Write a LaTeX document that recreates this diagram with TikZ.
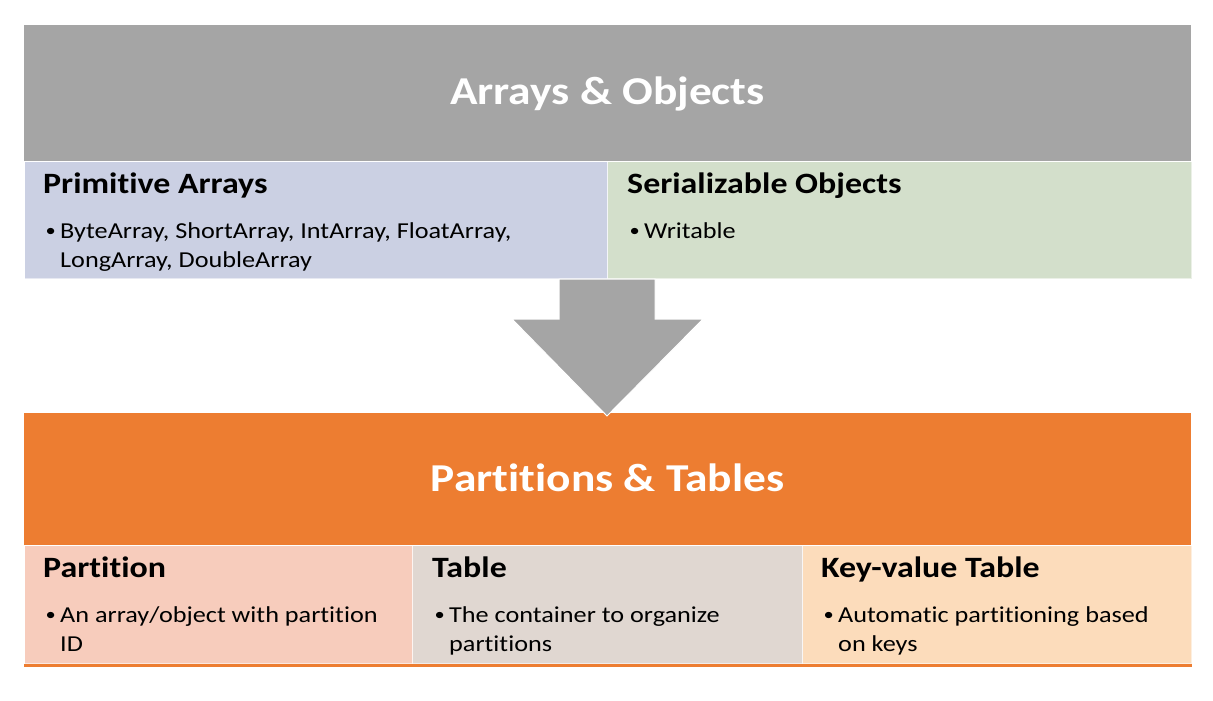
\documentclass[tikz,border=0pt]{standalone}
\usepackage{fontspec}
\setmainfont{Carlito}[FakeStretch=1.15, Renderer=OpenType, RawFeature={-liga;-clig;-calt;-dlig}]
\usepackage{tikz}
\usetikzlibrary{positioning}
\definecolor{boxgray}{HTML}{A5A5A5}
\definecolor{boxorange}{HTML}{ED7D31}
\definecolor{primblue}{HTML}{CBD0E3}
\definecolor{sergreen}{HTML}{D3DFCB}
\definecolor{partpink}{HTML}{F7CCBC}
\definecolor{tabtaupe}{HTML}{E0D7D1}
\definecolor{kvpeach}{HTML}{FCDCBB}
\tikzset{
	band/.style={rectangle, inner sep=0pt, anchor=north west, minimum width=1167pt},
	cell/.style={rectangle, inner sep=0pt, anchor=north west, draw=white, draw opacity=0.55, line width=1.2pt},
	title/.style={anchor=base, inner sep=0pt, text=white, font=\fontsize{39.5}{47}\selectfont\bfseries},
	head/.style={anchor=base west, inner sep=0pt, font=\fontsize{29.5}{35}\selectfont\bfseries},
	item/.style={anchor=base west, inner sep=0pt, align=left, font=\fontsize{22.8}{29}\selectfont}
}
\newcommand{\bul}{\makebox[15pt][l]{\hspace{0.5pt}\raisebox{1.2pt}{\scalebox{0.78}{\textbullet}}}}
\newcommand{\ind}{\hspace*{15pt}}

\begin{document}
\begin{tikzpicture}[x=1pt, y=-1pt]
	%\draw [help lines] (0,0) grid (1213,701);
	\useasboundingbox (0,0) rectangle (1213,701);
	% top block
	\node [band, fill=boxgray, minimum height=136pt] (ao) at (24,25) {};
	\node [title] (aotitle) at (607.5,104) {Arrays \& Objects};
	\node [cell, fill=primblue, minimum width=583pt, minimum height=117pt] (prim) at (24,161) {};
	\node [cell, fill=sergreen, minimum width=584pt, minimum height=117pt] (ser) at (607,161) {};
	\node [head] (primhead) at (43,193) {Primitive Arrays};
	\node [item] (primitem) at (45,267) {\bul ByteArray, ShortArray, IntArray, FloatArray,\\ \ind LongArray, DoubleArray};
	\node [head] (serhead) at (627,193) {Serializable Objects};
	\node [item] (seritem) at (629,238) {\bul Writable};
	% bottom block
	\node [band, fill=boxorange, minimum height=132pt] (pt) at (24,413) {};
	\node [title] (pttitle) at (607.5,491) {Partitions \& Tables};
	\node [cell, fill=partpink, minimum width=388pt, minimum height=118pt] (part) at (24,545) {};
	\node [cell, fill=tabtaupe, minimum width=390pt, minimum height=118pt] (tab) at (412,545) {};
	\node [cell, fill=kvpeach, minimum width=389pt, minimum height=118pt] (kv) at (802,545) {};
	\draw [boxorange, line width=3pt] (part.south west) ++(0,1.5) -- ([yshift=-1.5pt]kv.south east);
	\node [head] (parthead) at (43,577) {Partition};
	\node [item] (partitem) at (45,651) {\bul An array/object with partition\\ \ind ID};
	\node [head] (tabhead) at (432,577) {Table};
	\node [item] (tabitem) at (434,651) {\bul The container to organize\\ \ind partitions};
	\node [head] (kvhead) at (821,577) {Key-value Table};
	\node [item] (kvitem) at (823,651) {\bul Automatic partitioning based\\ \ind on keys};
	% arrow
	\fill [boxgray, draw=white, line width=1pt] (559,279) -- (655,279) -- (655,319) -- (703,319) -- (607,416) -- (512,319) -- (559,319) -- cycle;
\end{tikzpicture}
\end{document}
